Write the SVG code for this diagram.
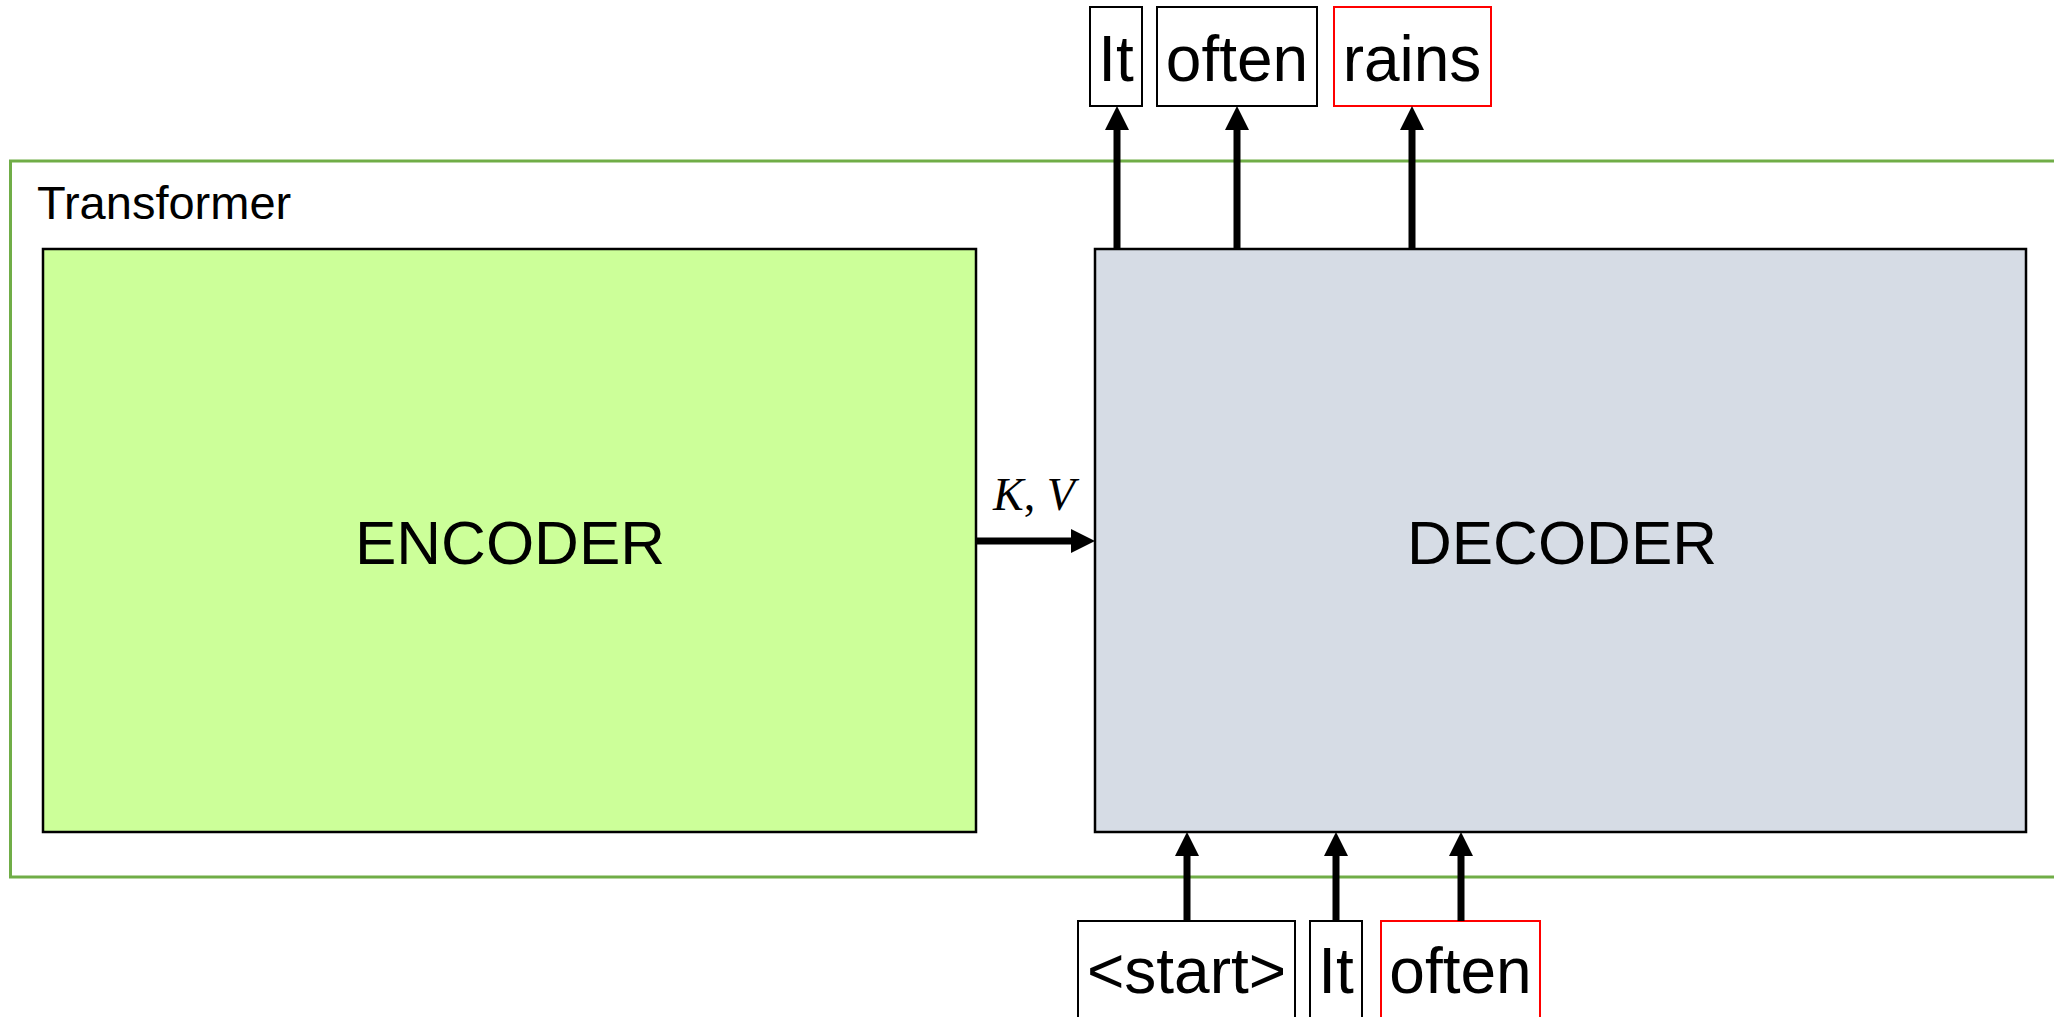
<svg xmlns="http://www.w3.org/2000/svg" width="2054" height="1017" viewBox="0 0 2054 1017">
<style>
.frame{fill:none;stroke:#70AD47;stroke-width:3}
.box{stroke:#000;stroke-width:2.5}
.tok{fill:#fff;stroke:#000;stroke-width:2}
.tokr{fill:#fff;stroke:#FF0000;stroke-width:2}
.t{font-family:"Liberation Sans",Arial,sans-serif;fill:#000;text-anchor:middle}
.big{font-size:62px}
.tk{font-size:64px}
.conn line{stroke:#000;stroke-width:7}
</style>
<defs>
<marker id="ah" viewBox="0 0 24 24" refX="0" refY="12" markerWidth="24" markerHeight="24" markerUnits="userSpaceOnUse" orient="auto">
<path d="M0,0 L24,12 L0,24 z" fill="#000"/>
</marker>
</defs>
<rect width="2054" height="1017" fill="#fff"/>
<g id="transformer">
<rect class="frame" x="10.5" y="161" width="2060" height="716"/>
<text class="t" x="37" y="219" style="text-anchor:start;font-size:47px">Transformer</text>
</g>
<g id="encoder">
<rect class="box" x="43" y="249" width="933" height="583" fill="#CCFF99"/>
<text class="t big" x="510" y="564">ENCODER</text>
</g>
<g id="decoder">
<rect class="box" x="1095" y="249" width="931" height="583" fill="#D6DCE5"/>
<text class="t big" x="1562" y="564">DECODER</text>
</g>
<g id="out-it"><rect class="tok" x="1090" y="7" width="52" height="99"/><text class="t tk" x="1116" y="81">It</text></g>
<g id="out-often"><rect class="tok" x="1157" y="7" width="160" height="99"/><text class="t tk" x="1237" y="81">often</text></g>
<g id="out-rains"><rect class="tokr" x="1334" y="7" width="157" height="99"/><text class="t tk" x="1412" y="81">rains</text></g>
<g id="in-start"><rect class="tok" x="1078" y="921" width="217" height="110"/><text class="t tk" x="1186.5" y="993">&lt;start&gt;</text></g>
<g id="in-it"><rect class="tok" x="1310" y="921" width="52" height="110"/><text class="t tk" x="1336" y="993">It</text></g>
<g id="in-often"><rect class="tokr" x="1381" y="921" width="159" height="110"/><text class="t tk" x="1460.5" y="993">often</text></g>
<g id="connectors" class="conn">
<line x1="1117" y1="249" x2="1117" y2="130" marker-end="url(#ah)"/>
<line x1="1237" y1="249" x2="1237" y2="130" marker-end="url(#ah)"/>
<line x1="1412" y1="249" x2="1412" y2="130" marker-end="url(#ah)"/>
<line x1="1187" y1="921" x2="1187" y2="856" marker-end="url(#ah)"/>
<line x1="1336" y1="921" x2="1336" y2="856" marker-end="url(#ah)"/>
<line x1="1461" y1="921" x2="1461" y2="856" marker-end="url(#ah)"/>
<line x1="976" y1="541" x2="1071" y2="541" marker-end="url(#ah)"/>
<text x="993" y="510" style="font-family:'Liberation Serif','DejaVu Serif',serif;font-size:46px;fill:#000"><tspan font-style="italic">K</tspan>, <tspan font-style="italic">V</tspan></text>
</g>
</svg>
